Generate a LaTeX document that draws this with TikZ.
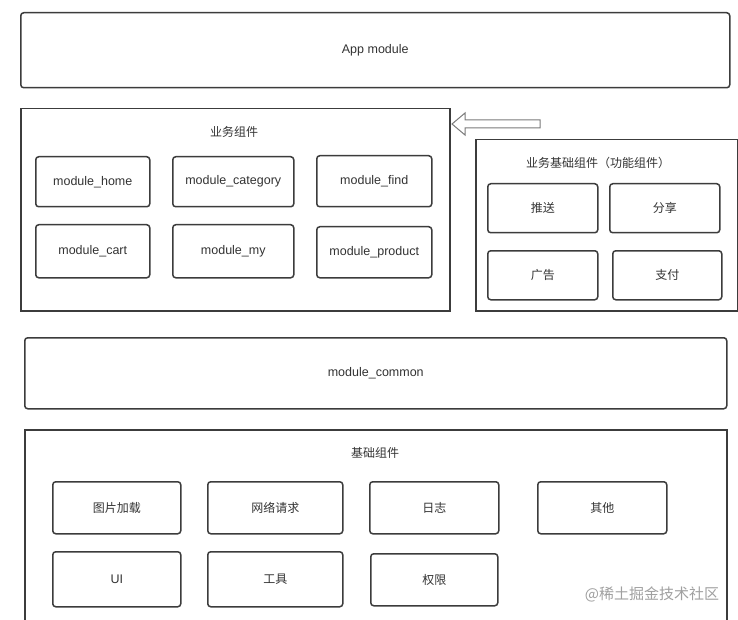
\documentclass[tikz,border=0pt]{standalone}
\usepackage{fontspec}
\setmainfont{Liberation Sans}
\newfontfamily\cjk{Noto Sans CJK SC}
\definecolor{ln}{HTML}{3C3C3C}
\definecolor{tx}{HTML}{333333}
\definecolor{wm}{HTML}{A0A0A0}
\definecolor{ar}{HTML}{7A7A7A}
\begin{document}
\begin{tikzpicture}[x=1pt,y=-1pt,
  box/.style={draw=ln, line width=1.5pt, rounded corners=3pt, anchor=north west, inner sep=0pt, text=tx, font=\fontsize{12.5}{15}\selectfont},
  cbox/.style={box, font=\cjk\fontsize{12}{14}\selectfont},
  panel/.style={draw=ln, line width=1.5pt, anchor=north west, inner sep=0pt},
  ttl/.style={text=tx, inner sep=0pt, font=\cjk\fontsize{12}{14}\selectfont},
  wmark/.style={text=wm, inner sep=0pt, font=\cjk\fontsize{15}{17}\selectfont}]
\clip (0,0) rectangle (738,620);
\fill[white] (0,0) rectangle (738,620);

% App module
\node[box, minimum width=709, minimum height=75] (app) at (20,12) {App module};

% business components
\node[panel, minimum width=429, minimum height=202] (biz) at (20,108) {};
\node[ttl] (bizt) at (234,132) {业务组件};
\node[box, minimum width=114, minimum height=50] (home) at (35,156) {module\_home};
\node[box, minimum width=121, minimum height=50] (cat) at (172,156) {module\_category};
\node[box, minimum width=115, minimum height=51] (find) at (316,155) {module\_find};
\node[box, minimum width=114, minimum height=53] (cart) at (35,224) {module\_cart};
\node[box, minimum width=121, minimum height=53] (my) at (172,224) {module\_my};
\node[box, minimum width=115, minimum height=51] (prod) at (316,226) {module\_product};

% hollow arrow
\coordinate (tip) at (452,124);
\draw[draw=ar, line width=1pt, fill=white, line join=miter]
  (tip) -- (465,113) -- (465,120) -- (540,120) -- (540,128) -- (465,128) -- (465,135) -- cycle;

% functional components
\node[panel, minimum width=262, minimum height=171] (func) at (475,139) {};
\node[ttl] (funct) at (598,163) {业务基础组件（功能组件）};
\node[cbox, minimum width=110, minimum height=49] (push) at (487,183) {推送};
\node[cbox, minimum width=110, minimum height=49] (share) at (609,183) {分享};
\node[cbox, minimum width=110, minimum height=49] (ad) at (487,250) {广告};
\node[cbox, minimum width=109, minimum height=49] (pay) at (612,250) {支付};

% module_common
\node[box, minimum width=702, minimum height=71] (common) at (24,337) {module\_common};

% base components
\node[panel, minimum width=702, minimum height=230] (base) at (24,429) {};
\node[ttl] (baset) at (375,453) {基础组件};
\node[cbox, minimum width=128, minimum height=52] (img) at (52,481) {图片加载};
\node[cbox, minimum width=135, minimum height=52] (net) at (207,481) {网络请求};
\node[cbox, minimum width=129, minimum height=52] (log) at (369,481) {日志};
\node[cbox, minimum width=129, minimum height=52] (other) at (537,481) {其他};
\node[box, minimum width=128, minimum height=55] (ui) at (52,551) {UI};
\node[cbox, minimum width=135, minimum height=55] (tool) at (207,551) {工具};
\node[cbox, minimum width=127, minimum height=52] (perm) at (370,553) {权限};

% watermark
\node[wmark] (wmk) at (652,594) {@稀土掘金技术社区};
\end{tikzpicture}
\end{document}
